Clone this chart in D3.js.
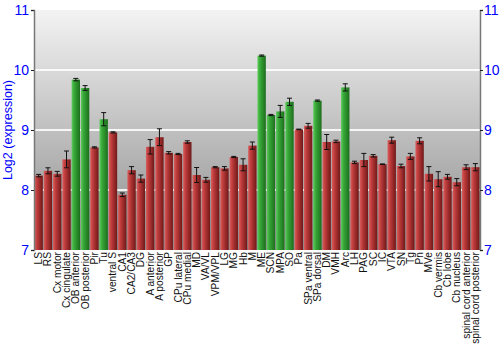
<!DOCTYPE html>
<html><head><meta charset="utf-8">
<script src="https://cdn.jsdelivr.net/npm/d3@7"></script>
<style>body{margin:0;background:#fff}svg{display:block}</style>
</head><body>
<svg id="chart" width="500" height="350"></svg>
<script>
const categories = ["LS","RS","Cx motor","Cx cingulate","OB anterior","OB posterior","Pir","Tu","ventral S","CA1","CA2/CA3","DG","A anterior","A posterior","GP","CPu lateral","CPu medial","MD","VA/VL","VPM/VPL","LG","MG","Hb","M","ME","SCN","MPA","SO","Pa","SPa ventral","SPa dorsal","DM","VMH","Arc","LH","PAG","SC","IC","VTA","SN","Tg","Pn","MVe","Cb vermis","Cb lobe","Cb nucleus","spinal cord anterior","spinal cord posterior"];
const values = [8.24,8.32,8.27,8.51,9.84,9.70,8.71,9.18,8.96,7.92,8.33,8.19,8.72,8.88,8.62,8.60,8.80,8.25,8.17,8.38,8.36,8.55,8.42,8.74,10.24,9.25,9.31,9.47,9.01,9.07,9.49,8.80,8.81,9.71,8.46,8.50,8.57,8.43,8.83,8.40,8.56,8.82,8.27,8.18,8.22,8.13,8.38,8.38];
const errors = [0.02,0.05,0.04,0.14,0.02,0.04,0.01,0.11,0.01,0.03,0.06,0.06,0.12,0.14,0.02,0.01,0.02,0.125,0.04,0.01,0.03,0.01,0.1,0.06,0.01,0.01,0.1,0.06,0.005,0.04,0.01,0.125,0.02,0.06,0.02,0.11,0.02,0.005,0.05,0.03,0.05,0.05,0.12,0.125,0.04,0.06,0.04,0.06];
const highlighted = ["OB anterior","OB posterior","Tu","ME","SCN","MPA","SO","SPa dorsal","Arc"];
const yTicks = [7,8,9,10,11];
const yLabel = "Log2 (expression)";

const svg = d3.select("#chart");
const m = {l:34, r:20, t:10, b:100};
const W = 500, H = 350;
const x = d3.scaleBand().domain(categories).range([m.l, W - m.r]).paddingInner(0.1).paddingOuter(0.05);
const y = d3.scaleLinear().domain([7, 11]).range([H - m.b, m.t]);

const defs = svg.append("defs");
const bg = defs.append("linearGradient").attr("id","bg").attr("x1",0).attr("y1",0).attr("x2",0).attr("y2",1);
bg.append("stop").attr("offset","0%").attr("stop-color","#f3f3f3");
bg.append("stop").attr("offset","100%").attr("stop-color","#8c8c8c");
function barGrad(id, c1, c2, c3){
  const g = defs.append("linearGradient").attr("id",id).attr("x1",0).attr("y1",0).attr("x2",1).attr("y2",0);
  g.append("stop").attr("offset","0%").attr("stop-color",c1);
  g.append("stop").attr("offset","30%").attr("stop-color",c2);
  g.append("stop").attr("offset","100%").attr("stop-color",c3);
}
barGrad("red","#d86060","#c03c3c","#701818");
barGrad("green","#5ccc5c","#38a838","#1c6e1c");

svg.append("rect").attr("x",m.l).attr("y",m.t).attr("width",W-m.r-m.l).attr("height",H-m.b-m.t).attr("fill","url(#bg)");

// gridlines
svg.append("g").selectAll("line").data(yTicks.filter(t=>t>7&&t<11)).join("line")
  .attr("x1",m.l).attr("x2",W-m.r).attr("y1",d=>y(d)).attr("y2",d=>y(d))
  .attr("stroke","#ffffff").attr("stroke-opacity",0.85).attr("stroke-width",2);

// bars
svg.append("g").selectAll("rect").data(categories).join("rect")
  .attr("x",d=>x(d)).attr("width",x.bandwidth())
  .attr("y",(d,i)=>y(values[i])).attr("height",(d,i)=>y(7)-y(values[i]))
  .attr("fill",d=>highlighted.includes(d)?"url(#green)":"url(#red)");

// error bars
const eg = svg.append("g").attr("stroke","#111").attr("stroke-width",1);
categories.forEach((c,i)=>{
  const cx = x(c)+x.bandwidth()/2;
  const y1 = y(values[i]+errors[i]), y2 = y(values[i]-errors[i]);
  eg.append("line").attr("x1",cx).attr("x2",cx).attr("y1",y1).attr("y2",y2);
  eg.append("line").attr("x1",cx-2.5).attr("x2",cx+2.5).attr("y1",y1).attr("y2",y1);
  eg.append("line").attr("x1",cx-2.5).attr("x2",cx+2.5).attr("y1",y2).attr("y2",y2);
});

// axes
const left = svg.append("g").attr("transform",`translate(${m.l},0)`)
  .call(d3.axisLeft(y).tickValues(yTicks).tickFormat(d3.format("d")).tickSize(3).tickPadding(2));
const right = svg.append("g").attr("transform",`translate(${W-m.r},0)`)
  .call(d3.axisRight(y).tickValues(yTicks).tickFormat(d3.format("d")).tickSize(3).tickPadding(1));
[left,right].forEach(a=>{
  a.select(".domain").attr("stroke","#777").attr("stroke-width",1.5);
  a.selectAll(".tick line").attr("stroke","#222");
  a.selectAll(".tick text").attr("fill","#0000ff").style("font-family","Liberation Sans, Arial, sans-serif").style("font-size","14px");
});

// x labels
svg.append("g").selectAll("text").data(categories).join("text")
  .attr("transform",d=>`translate(${x(d)+x.bandwidth()/2+3.5},${H-m.b+2}) rotate(-90)`)
  .attr("text-anchor","end")
  .style("font-family","Liberation Sans, Arial, sans-serif").style("font-size","10.2px").attr("fill","#111")
  .text(d=>d);

svg.append("text").attr("transform",`translate(12,${(m.t+H-m.b)/2}) rotate(-90)`)
  .attr("text-anchor","middle").attr("fill","#0000ff")
  .style("font-family","Liberation Sans, Arial, sans-serif").style("font-size","12.5px").text(yLabel);
</script>
</body></html>
